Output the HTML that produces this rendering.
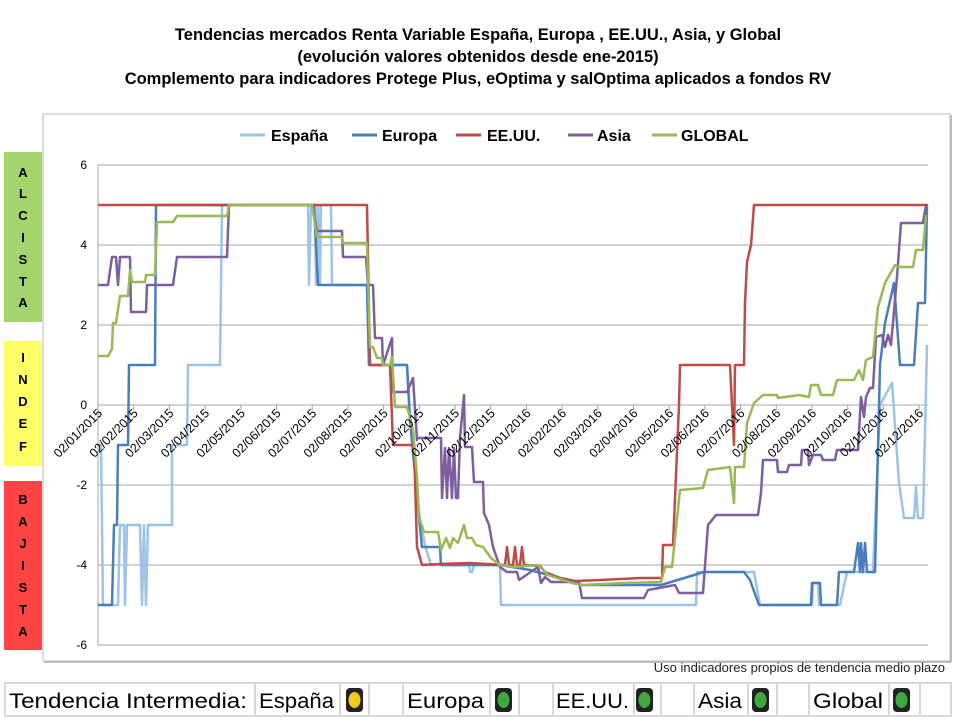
<!DOCTYPE html>
<html><head><meta charset="utf-8"><style>
body{margin:0;background:#fff;width:960px;height:720px;overflow:hidden;font-family:"Liberation Sans",sans-serif}
</style></head><body>
<svg width="960" height="720" viewBox="0 0 960 720" xmlns="http://www.w3.org/2000/svg" font-family="Liberation Sans, sans-serif">
<g font-weight="bold" font-size="16.5" text-anchor="middle" fill="#000">
<text x="478" y="40">Tendencias mercados Renta Variable España, Europa , EE.UU., Asia, y Global</text>
<text x="478" y="62">(evolución valores  obtenidos desde ene-2015)</text>
<text x="478" y="84">Complemento para indicadores Protege Plus, eOptima y salOptima aplicados a fondos RV</text>
</g>
<rect x="43" y="114" width="907" height="547" fill="#fff" stroke="#d0d0d0" stroke-width="1.5"/>
<line x1="44" y1="662" x2="951" y2="662" stroke="#bbb" stroke-width="2"/>
<line x1="951" y1="115" x2="951" y2="662" stroke="#bbb" stroke-width="2"/>
<rect x="4" y="152" width="38" height="170" fill="#a3d46e"/>
<rect x="4" y="341" width="38" height="125" fill="#ffff66"/>
<rect x="4" y="481" width="38" height="169" fill="#ff4444"/>
<g font-weight="bold" font-size="13" text-anchor="middle" fill="#000">
<text x="23" y="177">A</text><text x="23" y="198">L</text><text x="23" y="220">C</text><text x="23" y="242">I</text><text x="23" y="264">S</text><text x="23" y="286">T</text><text x="23" y="307">A</text>
<text x="23" y="362">I</text><text x="23" y="384">N</text><text x="23" y="406">D</text><text x="23" y="428">E</text><text x="23" y="451">F</text>
<text x="23" y="504">B</text><text x="23" y="526">A</text><text x="23" y="548">J</text><text x="23" y="570">I</text><text x="23" y="592">S</text><text x="23" y="614">T</text><text x="23" y="636">A</text>
</g>
<g stroke="#a6a6a6" stroke-width="1">
<line x1="98" y1="165" x2="928" y2="165"/><line x1="98" y1="245" x2="928" y2="245"/>
<line x1="98" y1="325" x2="928" y2="325"/><line x1="98" y1="485" x2="928" y2="485"/>
<line x1="98" y1="565" x2="928" y2="565"/><line x1="98" y1="645" x2="928" y2="645"/>
<line x1="98" y1="405" x2="928" y2="405"/><line x1="98" y1="165" x2="98" y2="645"/>
</g>
<g font-size="12" text-anchor="end" fill="#000">
<text x="87" y="169">6</text><text x="87" y="249">4</text><text x="87" y="329">2</text><text x="87" y="409">0</text><text x="87" y="489">-2</text><text x="87" y="569">-4</text><text x="87" y="649">-6</text>
</g>
<g stroke-width="3">
<line x1="240" y1="135" x2="265" y2="135" stroke="#9dc3e6"/>
<line x1="352" y1="135" x2="377" y2="135" stroke="#4a7ebb"/>
<line x1="456" y1="135" x2="481" y2="135" stroke="#be4b48"/>
<line x1="568" y1="135" x2="593" y2="135" stroke="#7d5fa0"/>
<line x1="652" y1="135" x2="677" y2="135" stroke="#98b954"/>
</g>
<g font-weight="bold" font-size="16" fill="#000">
<text x="271" y="141">España</text><text x="382" y="141">Europa</text><text x="487" y="141">EE.UU.</text><text x="597" y="141">Asia</text><text x="681" y="141">GLOBAL</text>
</g>
<g fill="none" stroke-width="2.5" stroke-linejoin="round">
<polyline stroke="#9dc3e6" points="98,445 101,445 103,605 118,605 120,525 124,525 125,605 127,525 140,525 142,605 144,525 146,605 148,525 172,525 172,445 187,445 188,365 220,365 222,205 308,205 309,285 311,205 315,205 316,285 318,205 320,285 321,205 331,205 332,285 334,285 367,285 369,365 393,365 407,365 410,420 420,520 425,545 431,565 469,565 470,572 472,572 474,565 500,565 501,605 696,605 697,572 754,572 760,605 812,605 813,583 818,583 819,605 840,605 847,572 873,572 880,405 892,383 899,483 904,518 914,518 916,487 918,518 923,518 927,345"/>
<polyline stroke="#4a7ebb" points="98,605 112,605 114,525 117,525 118,445 128,445 129,365 155,365 156,205 314,205 318,285 367,285 369,365 407,365 410,420 419,517 422,547 440,547 441,565 500,565 530,570 560,578 582,585 661,585 704,572 744,572 750,580 759,605 811,605 812,583 820,583 821,605 837,605 839,572 854,572 858,543 860,572 861,543 863,572 865,543 867,572 875,572 880,365 885,323 894,283 900,365 914,365 918,303 925,303 927,205"/>
<polyline stroke="#be4b48" points="98,205 367,205 370,365 390,365 393,445 414,445 417,547 422,565 440,564 470,563 505,565 507,547 509,565 513,565 515,547 517,565 520,565 522,547 524,565 540,566 545,572 560,578 575,581 600,580 640,578 662,578 663,545 673,545 679,405 680,365 730,365 734,445 735,365 744,365 745,303 747,262 751,245 754,205 928,205"/>
<polyline stroke="#7d5fa0" points="98,285 108,285 112,257 116,257 118,285 120,257 130,257 131,312 146,312 147,285 173,285 177,257 227,257 229,205 312,205 317,231 342,231 343,257 366,257 368,285 373,285 375,338 382,338 383,365 392,338 393,392 407,392 413,378 417,440 417,438 441,438 442,498 445,448 447,498 449,448 452,498 454,448 456,498 458,498 460,438 464,395 465,447 472,447 474,482 483,482 484,513 489,525 493,547 500,567 507,572 517,572 519,580 538,567 541,583 545,577 551,582 579,582 582,598 644,598 648,590 675,585 679,593 703,593 708,525 716,515 758,515 761,493 763,460 777,460 778,472 787,472 789,465 801,465 802,450 808,450 809,465 813,455 821,455 823,460 835,460 837,450 858,450 861,397 864,417 866,397 870,388 873,388 876,337 882,335 885,347 888,335 891,345 897,277 901,223 923,223 926,205"/>
<polyline stroke="#98b954" points="98,356 108,356 112,349 113,323 116,323 120,296 128,296 130,270 132,282 145,282 146,275 155,275 157,222 173,222 177,216 227,216 229,205 312,205 317,237 342,237 343,243 367,243 370,347 373,347 377,358 382,358 383,365 390,365 392,357 395,407 407,407 410,417 413,430 417,477 419,517 424,532 438,532 441,550 446,538 450,548 453,538 458,543 464,525 467,538 472,538 476,545 483,547 491,558 500,565 514,567 538,565 548,575 572,583 582,585 624,583 661,582 665,567 672,567 680,490 703,488 708,470 730,467 734,503 735,467 744,467 747,423 754,403 763,395 777,395 778,398 799,395 809,397 811,385 818,385 821,395 833,395 837,380 854,380 859,370 863,380 866,360 873,357 878,307 885,283 895,265 899,267 913,267 916,250 923,250 926,215"/>
</g>
<text x="945" y="672" font-size="13" text-anchor="end" font-family="Liberation Sans Narrow, Liberation Sans, sans-serif" fill="#222">Uso indicadores propios de tendencia medio plazo</text>
<g fill="none" stroke="#d8d8d8" stroke-width="2">
<rect x="5" y="683" width="946" height="33"/>
<line x1="255" y1="683" x2="255" y2="716"/><line x1="340" y1="683" x2="340" y2="716"/><line x1="369" y1="683" x2="369" y2="716"/>
<line x1="403" y1="683" x2="403" y2="716"/><line x1="490" y1="683" x2="490" y2="716"/><line x1="519" y1="683" x2="519" y2="716"/>
<line x1="553" y1="683" x2="553" y2="716"/><line x1="634" y1="683" x2="634" y2="716"/><line x1="661" y1="683" x2="661" y2="716"/>
<line x1="694" y1="683" x2="694" y2="716"/><line x1="748" y1="683" x2="748" y2="716"/><line x1="777" y1="683" x2="777" y2="716"/>
<line x1="809" y1="683" x2="809" y2="716"/><line x1="889" y1="683" x2="889" y2="716"/><line x1="920" y1="683" x2="920" y2="716"/>
</g>
<g font-size="21" fill="#000" font-family="Liberation Sans Narrow, Liberation Sans, sans-serif">
<text x="9" y="708" textLength="238" lengthAdjust="spacingAndGlyphs">Tendencia Intermedia:</text>
<text x="259" y="708" textLength="75" lengthAdjust="spacingAndGlyphs">España</text>
<text x="407" y="708" textLength="77" lengthAdjust="spacingAndGlyphs">Europa</text>
<text x="556" y="708" textLength="73" lengthAdjust="spacingAndGlyphs">EE.UU.</text>
<text x="698" y="708" textLength="44" lengthAdjust="spacingAndGlyphs">Asia</text>
<text x="813" y="708" textLength="70" lengthAdjust="spacingAndGlyphs">Global</text>
</g>
<g>
<rect x="346" y="688" width="17" height="24" rx="4" fill="#222"/><ellipse cx="354.5" cy="700" rx="6" ry="8" fill="#f2cc1a"/>
<rect x="495" y="688" width="17" height="24" rx="4" fill="#222"/><ellipse cx="503.5" cy="700" rx="6" ry="8" fill="#3fa83f"/>
<rect x="636" y="688" width="17" height="24" rx="4" fill="#222"/><ellipse cx="644.5" cy="700" rx="6" ry="8" fill="#3fa83f"/>
<rect x="752" y="688" width="17" height="24" rx="4" fill="#222"/><ellipse cx="760.5" cy="700" rx="6" ry="8" fill="#3fa83f"/>
<rect x="893" y="688" width="17" height="24" rx="4" fill="#222"/><ellipse cx="901.5" cy="700" rx="6" ry="8" fill="#3fa83f"/>
</g>
<g stroke="#a6a6a6">
<line x1="98" y1="405" x2="98" y2="410"/><line x1="133.7" y1="405" x2="133.7" y2="410"/><line x1="169.4" y1="405" x2="169.4" y2="410"/><line x1="205.1" y1="405" x2="205.1" y2="410"/><line x1="240.8" y1="405" x2="240.8" y2="410"/><line x1="276.5" y1="405" x2="276.5" y2="410"/><line x1="312.2" y1="405" x2="312.2" y2="410"/><line x1="347.9" y1="405" x2="347.9" y2="410"/><line x1="383.6" y1="405" x2="383.6" y2="410"/><line x1="419.3" y1="405" x2="419.3" y2="410"/><line x1="455" y1="405" x2="455" y2="410"/><line x1="490.7" y1="405" x2="490.7" y2="410"/><line x1="526.4" y1="405" x2="526.4" y2="410"/><line x1="562.1" y1="405" x2="562.1" y2="410"/><line x1="597.8" y1="405" x2="597.8" y2="410"/><line x1="633.5" y1="405" x2="633.5" y2="410"/><line x1="669.2" y1="405" x2="669.2" y2="410"/><line x1="704.9" y1="405" x2="704.9" y2="410"/><line x1="740.6" y1="405" x2="740.6" y2="410"/><line x1="776.3" y1="405" x2="776.3" y2="410"/><line x1="812" y1="405" x2="812" y2="410"/><line x1="847.7" y1="405" x2="847.7" y2="410"/><line x1="883.4" y1="405" x2="883.4" y2="410"/><line x1="919.1" y1="405" x2="919.1" y2="410"/>
</g>
<g font-size="12.5" text-anchor="end" fill="#000">
<text transform="translate(103,414) rotate(-45)">02/01/2015</text>
<text transform="translate(138.7,414) rotate(-45)">02/02/2015</text>
<text transform="translate(174.4,414) rotate(-45)">02/03/2015</text>
<text transform="translate(210.1,414) rotate(-45)">02/04/2015</text>
<text transform="translate(245.8,414) rotate(-45)">02/05/2015</text>
<text transform="translate(281.5,414) rotate(-45)">02/06/2015</text>
<text transform="translate(317.2,414) rotate(-45)">02/07/2015</text>
<text transform="translate(352.9,414) rotate(-45)">02/08/2015</text>
<text transform="translate(388.6,414) rotate(-45)">02/09/2015</text>
<text transform="translate(424.3,414) rotate(-45)">02/10/2015</text>
<text transform="translate(460,414) rotate(-45)">02/11/2015</text>
<text transform="translate(495.7,414) rotate(-45)">02/12/2015</text>
<text transform="translate(531.4,414) rotate(-45)">02/01/2016</text>
<text transform="translate(567.1,414) rotate(-45)">02/02/2016</text>
<text transform="translate(602.8,414) rotate(-45)">02/03/2016</text>
<text transform="translate(638.5,414) rotate(-45)">02/04/2016</text>
<text transform="translate(674.2,414) rotate(-45)">02/05/2016</text>
<text transform="translate(709.9,414) rotate(-45)">02/06/2016</text>
<text transform="translate(745.6,414) rotate(-45)">02/07/2016</text>
<text transform="translate(781.3,414) rotate(-45)">02/08/2016</text>
<text transform="translate(817,414) rotate(-45)">02/09/2016</text>
<text transform="translate(852.7,414) rotate(-45)">02/10/2016</text>
<text transform="translate(888.4,414) rotate(-45)">02/11/2016</text>
<text transform="translate(924.1,414) rotate(-45)">02/12/2016</text>
</g>
</svg>
</body></html>
